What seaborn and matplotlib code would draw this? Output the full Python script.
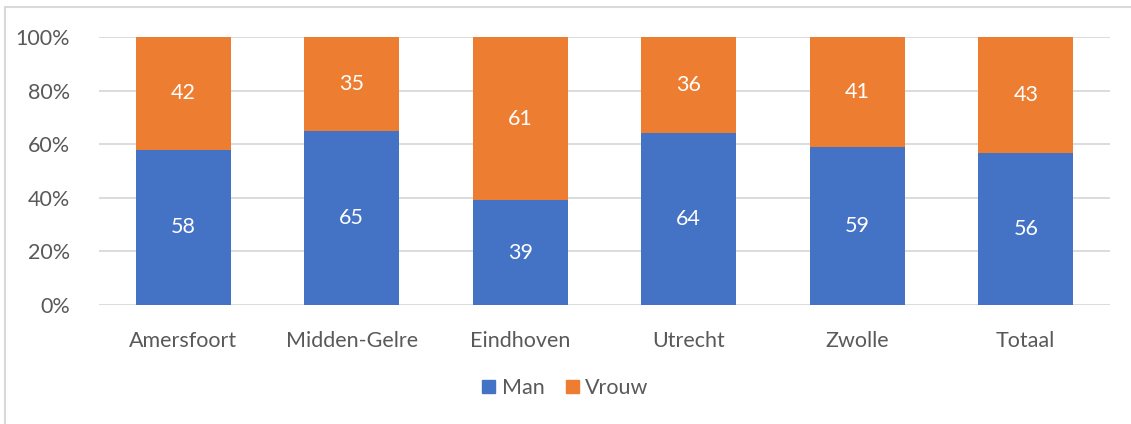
import pandas as pd
import matplotlib
matplotlib.use("Agg")
import matplotlib.pyplot as plt
import seaborn as sns
from matplotlib.patches import Patch

# data (percent, per location)
locaties = ["Amersfoort", "Midden-Gelre", "Eindhoven", "Utrecht", "Zwolle", "Totaal"]
man = [58, 65, 39, 64, 59, 56]
vrouw = [42, 35, 61, 36, 41, 43]
yticks = [0, 20, 40, 60, 80, 100]

BLUE = "#4472C4"
ORANGE = "#ED7D31"
GREY_TXT = "#595959"
GRID = "#D9D9D9"
FS = 15.5

sns.set_style("white")
plt.rcParams["font.family"] = ["Lato", "DejaVu Sans"]

df = pd.DataFrame({"Locatie": locaties, "Man": man, "Vrouw": vrouw})
df["totaal"] = df["Man"] + df["Vrouw"]
df["man_pct"] = df["Man"] / df["totaal"] * 100
df["alles"] = 100.0

fig = plt.figure(figsize=(11.31, 4.24), dpi=100)
ax = fig.add_axes([99 / 1131, 1 - 305 / 424, 1011 / 1131, 268 / 424])

# 100% stacked: orange full bar underneath, blue share on top
sns.barplot(data=df, x="Locatie", y="alles", color=ORANGE, width=0.565,
            saturation=1, linewidth=0, ax=ax, zorder=2)
sns.barplot(data=df, x="Locatie", y="man_pct", color=BLUE, width=0.565,
            saturation=1, linewidth=0, ax=ax, zorder=3)

for i, row in df.iterrows():
    ax.text(i, row["man_pct"] / 2, f"{row['Man']}", ha="center", va="center",
            color="white", fontsize=FS, zorder=4)
    ax.text(i, (row["man_pct"] + 100) / 2, f"{row['Vrouw']}", ha="center",
            va="center", color="white", fontsize=FS, zorder=4)

ax.set_ylim(0, 100)
ax.set_xlim(-0.5, len(locaties) - 0.5)
ax.set_yticks(yticks)
ax.set_yticklabels([f"{t}%" for t in yticks])
ax.yaxis.grid(True, color=GRID, linewidth=1.3, zorder=0)
ax.set_axisbelow(True)
for s in ax.spines.values():
    s.set_visible(False)
ax.set_xlabel("")
ax.set_ylabel("")
ax.tick_params(axis="both", length=0, labelsize=FS, colors=GREY_TXT)
ax.tick_params(axis="x", pad=19)
ax.tick_params(axis="y", pad=21)

handles = [Patch(color=BLUE, label="Man"), Patch(color=ORANGE, label="Vrouw")]
fig.legend(handles=handles, loc="center", bbox_to_anchor=(0.5, 1 - 388 / 424),
           ncol=2, frameon=False, fontsize=FS, labelcolor=GREY_TXT,
           handlelength=0.6, handleheight=0.6, handletextpad=0.3,
           columnspacing=1.0)

# light chart-area border like the original
fig.add_artist(plt.Line2D([5 / 1131, 5 / 1131], [0, 1 - 7 / 424],
                          color=GRID, linewidth=1.5))
fig.add_artist(plt.Line2D([5 / 1131, 1], [1 - 7 / 424, 1 - 7 / 424],
                          color=GRID, linewidth=1.5))

fig.savefig("out.png", dpi=100)
